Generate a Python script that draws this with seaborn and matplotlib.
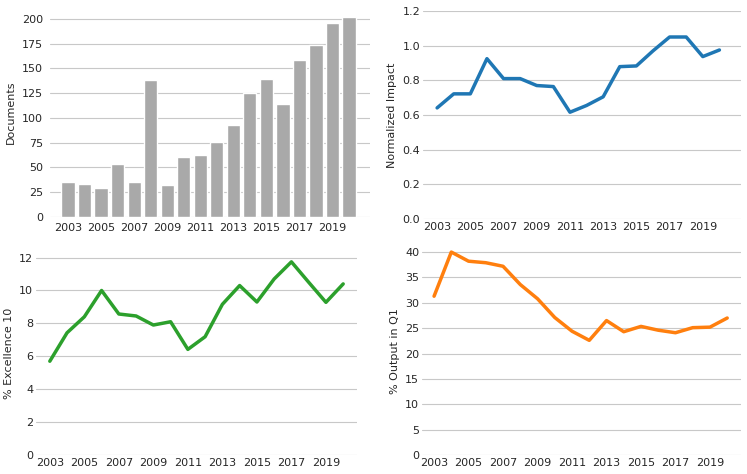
import numpy as np
import pandas as pd
import seaborn as sns
import matplotlib.pyplot as plt

# yearly indicators, 2003-2020
years = list(range(2003, 2021))
documents = [35, 33, 29, 54, 35, 138, 32, 61, 63, 76, 93, 125, 139, 114, 159, 174, 196, 202]
norm_impact = [0.641, 0.722, 0.722, 0.925, 0.81, 0.81, 0.77, 0.764, 0.616, 0.655,
               0.705, 0.879, 0.883, 0.97, 1.05, 1.05, 0.937, 0.975]
excellence = [5.7, 7.43, 8.4, 10.0, 8.57, 8.45, 7.9, 8.1, 6.42, 7.19,
              9.16, 10.3, 9.3, 10.7, 11.74, 10.5, 9.28, 10.4]
output_q1 = [31.3, 40.0, 38.2, 37.9, 37.2, 33.6, 30.8, 27.1, 24.4, 22.6,
             26.5, 24.3, 25.35, 24.6, 24.1, 25.1, 25.2, 27.0]

df = pd.DataFrame({"Year": years, "Documents": documents, "Normalized Impact": norm_impact,
                   "% Excellence 10": excellence, "% Output in Q1": output_q1})

sns.set_style("whitegrid", {"grid.color": "#c8c8c8", "axes.edgecolor": "white"})
plt.rcParams["font.family"] = ["DejaVu Sans"]
plt.rcParams["font.size"] = 8

fig = plt.figure(figsize=(7.47, 4.74), dpi=100)
H = 474
W = 747

def box(x0, x1, y0, y1):
    # pixel box -> figure fraction
    return [x0 / W, 1 - y1 / H, (x1 - x0) / W, (y1 - y0) / H]

ax1 = fig.add_axes(box(50, 370, 7, 217))
ax2 = fig.add_axes(box(423, 741, 11, 219))
ax3 = fig.add_axes(box(36, 357, 251, 455))
ax4 = fig.add_axes(box(422, 741, 247, 455))

# documents per year
sns.barplot(data=df, x="Year", y="Documents", color="#a9a9a9", saturation=1, width=0.8, ax=ax1)
ax1.set_xticks(range(0, len(years), 2))
ax1.set_xticklabels(years[::2])
ax1.set_xlabel("")
ax1.set_xlim(-1.09, 18.27)
ax1.set_ylim(0, 212)
ax1.set_yticks(range(0, 201, 25))

line_panels = [
    (ax2, "Normalized Impact", "#1f77b4", (0, 1.2), np.arange(0, 1.21, 0.2), (2002.15, 2021.3)),
    (ax3, "% Excellence 10", "#2ca02c", (0, 12.4), range(0, 13, 2), (2002.2, 2020.8)),
    (ax4, "% Output in Q1", "#ff7f0e", (0, 41), range(0, 41, 5), (2002.3, 2020.8)),
]
for ax, col, c, ylim, yt, xlim in line_panels:
    sns.lineplot(data=df, x="Year", y=col, color=c, linewidth=2.5, ax=ax)
    ax.set_xticks(years[::2])
    ax.set_xlim(*xlim)
    ax.set_ylim(*ylim)
    ax.set_yticks(yt)
    ax.set_xlabel("")

ax2.set_yticklabels([f"{v:.1f}" for v in np.arange(0, 1.21, 0.2)])

for ax in [ax1, ax2, ax3, ax4]:
    ax.xaxis.grid(False)
    ax.tick_params(length=0, pad=2, labelsize=8)
    sns.despine(ax=ax, left=True, bottom=True)

ax1.tick_params(axis="y", pad=5)
ax1.tick_params(axis="x", pad=4)

plt.savefig("out.png", dpi=100)
